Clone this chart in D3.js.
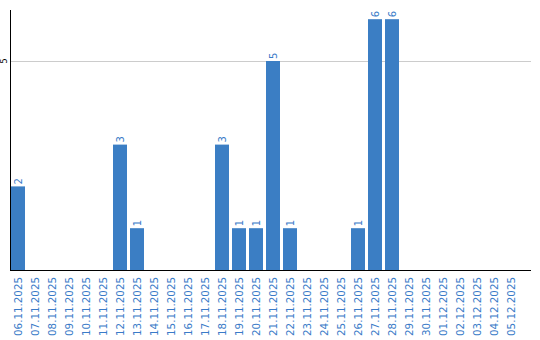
<!DOCTYPE html>
<html>
<head>
<meta charset="utf-8">
<script src="https://cdn.jsdelivr.net/npm/d3@7/dist/d3.min.js"></script>
<style>
    body { margin: 0; background: #ffffff; }
    svg { display: block; }
</style>
</head>
<body>
<div id="chart"></div>
<script>
const dates = [
    '06.11.2025', '07.11.2025', '08.11.2025', '09.11.2025', '10.11.2025',
    '11.11.2025', '12.11.2025', '13.11.2025', '14.11.2025', '15.11.2025',
    '16.11.2025', '17.11.2025', '18.11.2025', '19.11.2025', '20.11.2025',
    '21.11.2025', '22.11.2025', '23.11.2025', '24.11.2025', '25.11.2025',
    '26.11.2025', '27.11.2025', '28.11.2025', '29.11.2025', '30.11.2025',
    '01.12.2025', '02.12.2025', '03.12.2025', '04.12.2025', '05.12.2025'
];
const counts = [
    2, 0, 0, 0, 0,
    0, 3, 1, 0, 0,
    0, 0, 3, 1, 1,
    5, 1, 0, 0, 0,
    1, 6, 6, 0, 0,
    0, 0, 0, 0, 0
];
const yTicks = [5];

const width = 540;
const height = 340;
const barColor = '#3b7ec4';
const labelColor = '#3a7bc8';

const svg = d3.select('#chart')
    .append('svg')
    .attr('width', width)
    .attr('height', height);

const x = d3.scaleBand()
    .domain(dates)
    .range([11, 518])
    .paddingInner(3 / 17)
    .paddingOuter(0);

const y = d3.scaleLinear()
    .domain([0, 6.22])
    .range([270, 10]);

// grid line
svg.append('g')
    .selectAll('line')
    .data(yTicks)
    .enter().append('line')
    .attr('x1', 10)
    .attr('x2', 531)
    .attr('y1', d => Math.round(y(d)) + 0.5)
    .attr('y2', d => Math.round(y(d)) + 0.5)
    .attr('stroke', '#cccccc')
    .attr('stroke-width', 1);

// y tick labels (rotated)
svg.append('g')
    .selectAll('text')
    .data(yTicks)
    .enter().append('text')
    .attr('transform', d => `translate(4,${y(d)}) rotate(-90)`)
    .attr('text-anchor', 'middle')
    .attr('dy', '0.35em')
    .attr('font-family', 'DejaVu Sans, Verdana, sans-serif')
    .attr('font-size', 8)
    .attr('fill', '#000000')
    .text(d => d);

const data = dates.map((d, i) => ({ date: d, value: counts[i] }));

// bars
svg.append('g')
    .selectAll('rect')
    .data(data)
    .enter().append('rect')
    .attr('x', d => x(d.date))
    .attr('width', x.bandwidth())
    .attr('y', d => y(d.value))
    .attr('height', d => y(0) - y(d.value))
    .attr('fill', barColor);

// value labels
svg.append('g')
    .selectAll('text')
    .data(data.filter(d => d.value > 0))
    .enter().append('text')
    .attr('transform', d => `translate(${x(d.date) + x.bandwidth() / 2},${y(d.value) - 2}) rotate(-90)`)
    .attr('text-anchor', 'start')
    .attr('dy', '0.35em')
    .attr('font-family', 'DejaVu Sans, Verdana, sans-serif')
    .attr('font-size', 10)
    .attr('fill', labelColor)
    .text(d => d.value);

// x labels
svg.append('g')
    .selectAll('text')
    .data(dates)
    .enter().append('text')
    .attr('transform', d => `translate(${x(d) + x.bandwidth() / 2},277) rotate(-90)`)
    .attr('text-anchor', 'end')
    .attr('dy', '0.35em')
    .attr('font-family', 'DejaVu Sans, Verdana, sans-serif')
    .attr('font-size', 10.3)
    .attr('fill', labelColor)
    .text(d => d);

// axes lines
svg.append('line')
    .attr('x1', 10.5).attr('x2', 10.5)
    .attr('y1', 10).attr('y2', 271)
    .attr('stroke', '#000000')
    .attr('stroke-width', 1);

svg.append('line')
    .attr('x1', 10).attr('x2', 531)
    .attr('y1', 270.5).attr('y2', 270.5)
    .attr('stroke', '#000000')
    .attr('stroke-width', 1);
</script>
</body>
</html>
